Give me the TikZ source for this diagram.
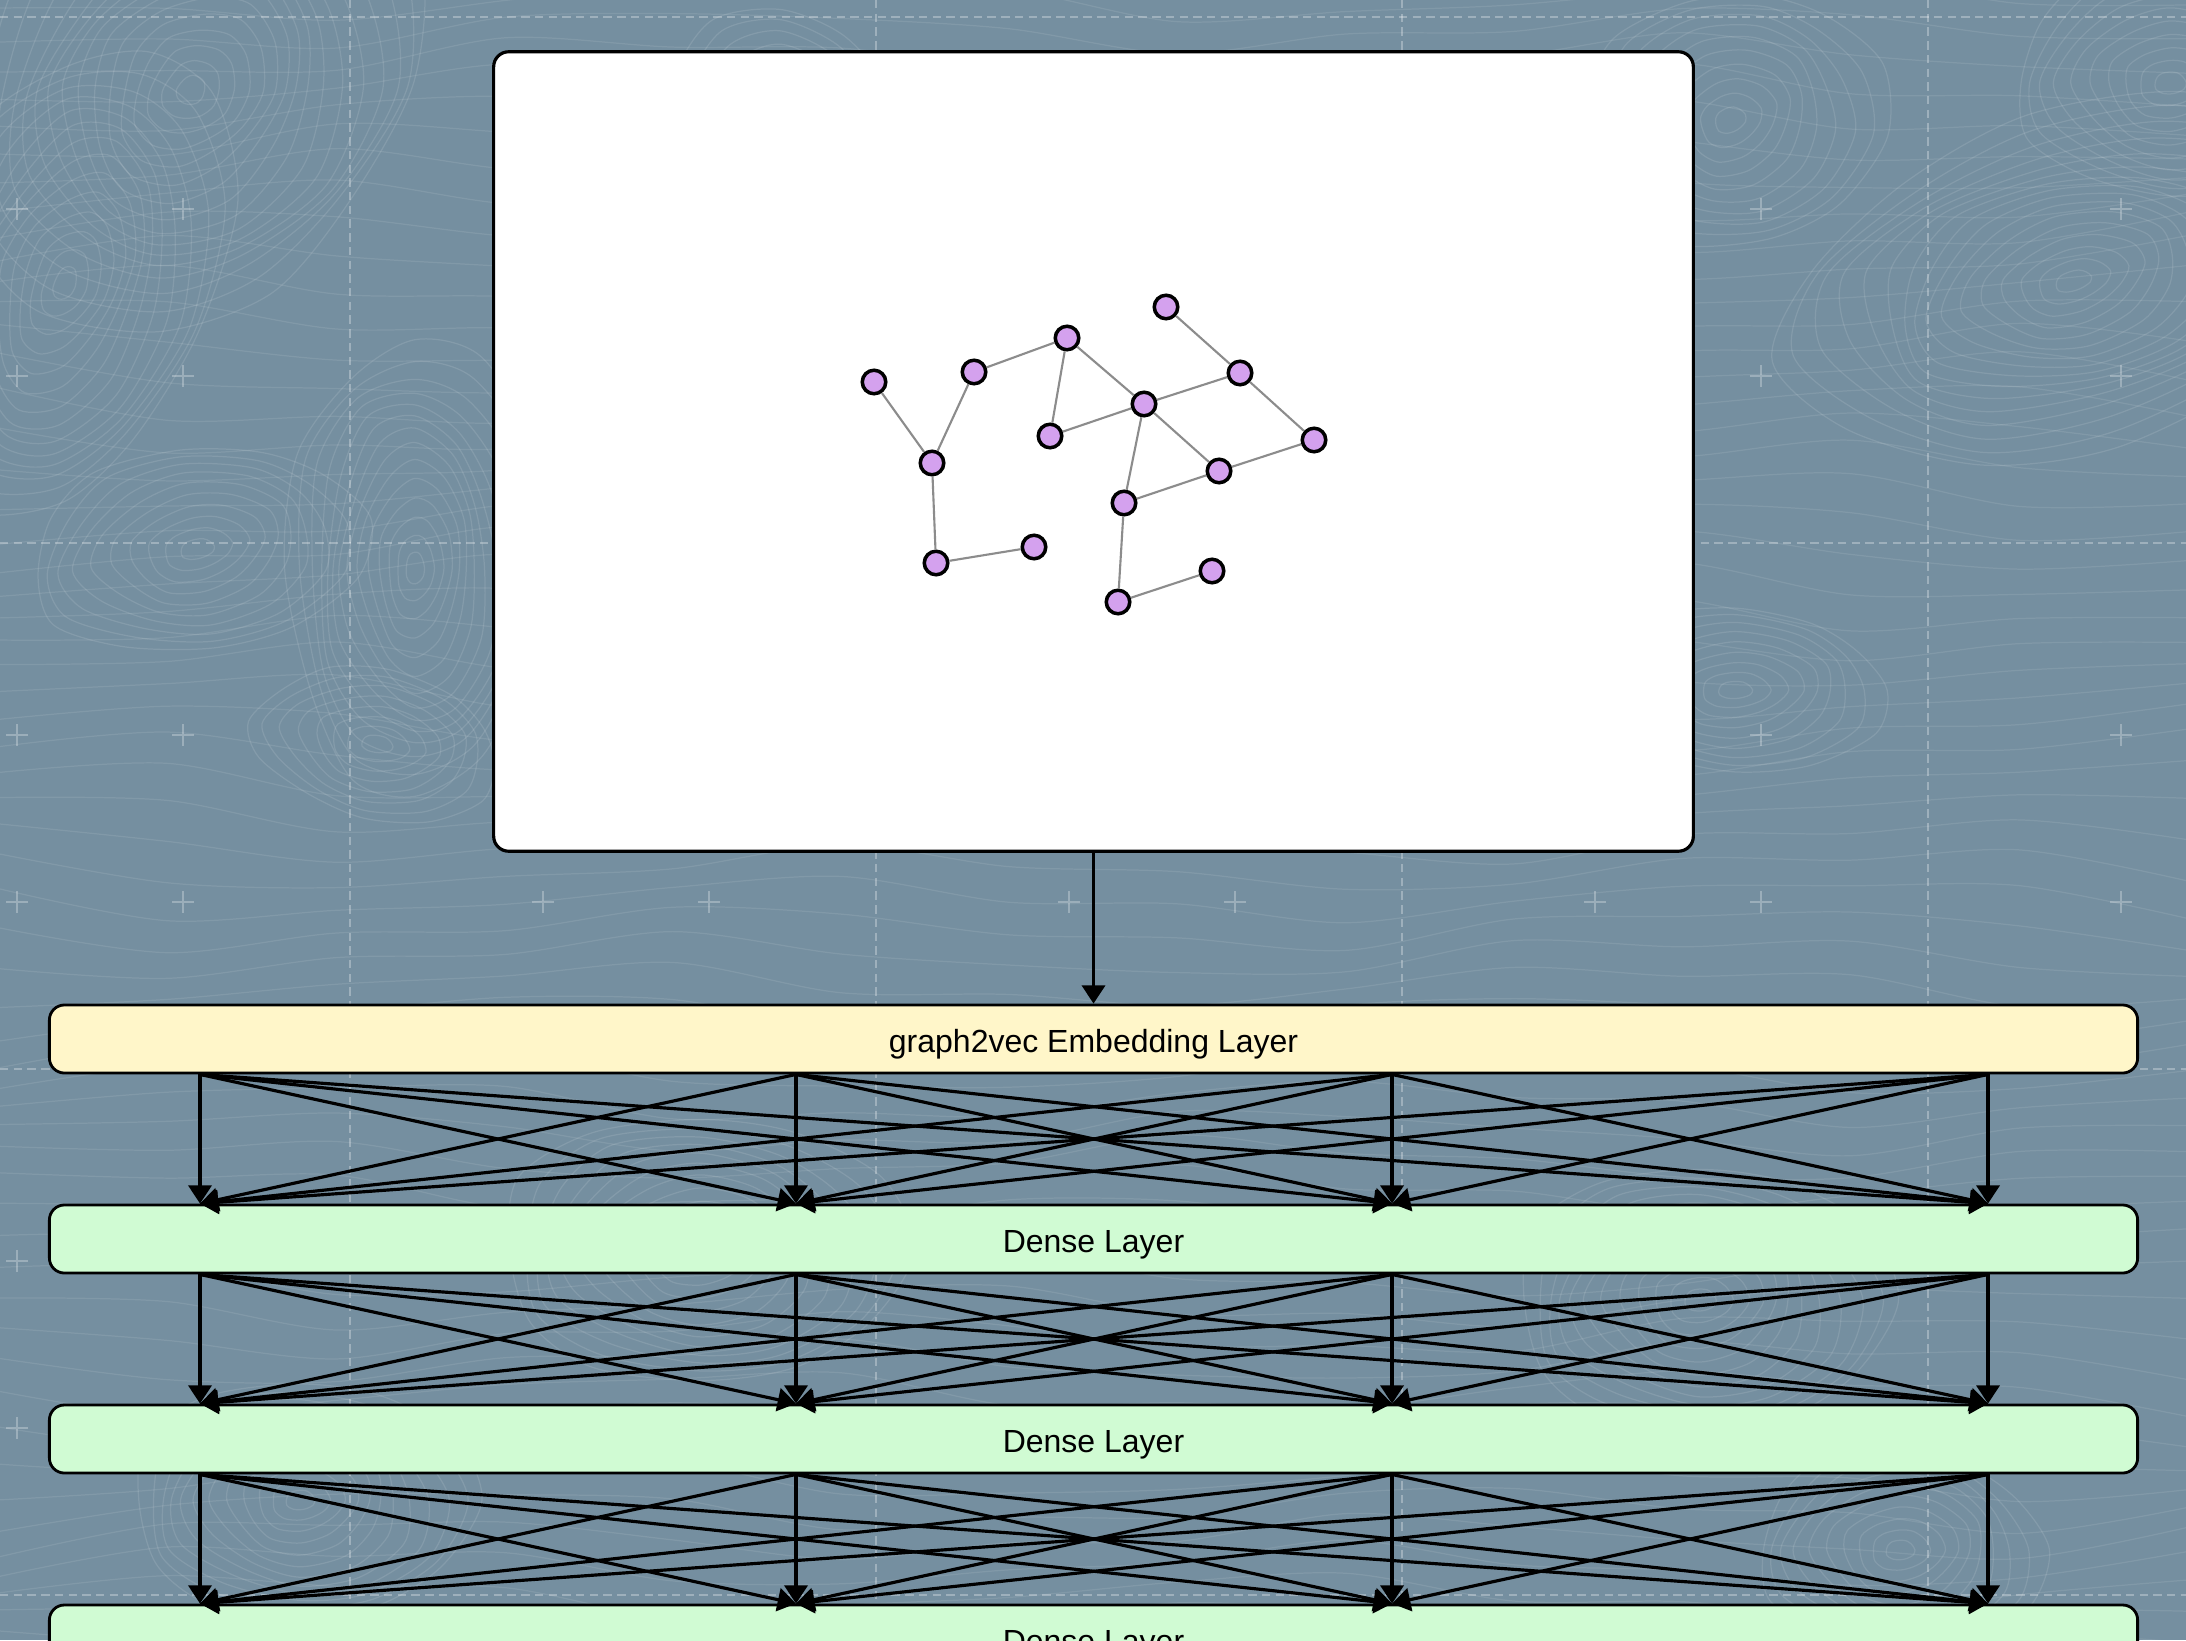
\documentclass[tikz,border=0pt]{standalone}
\usepackage{fontspec}
\setmainfont{Liberation Sans}
\usetikzlibrary{arrows.meta}
\definecolor{bgblue}{HTML}{758FA0}
\definecolor{nodepurple}{HTML}{D4A1EE}
\definecolor{embfill}{HTML}{FFF6C9}
\definecolor{densefill}{HTML}{D0FBD3}
\definecolor{edgegray}{HTML}{8C8C8C}
\begin{document}
\begin{tikzpicture}[x=0.01cm,y=-0.01cm,
  contour/.style={white, opacity=0.11, line width=0.35pt},
  flowline/.style={white, opacity=0.09, line width=0.35pt},
  gridline/.style={white, opacity=0.3, line width=0.45pt, dash pattern=on 2.4pt off 1.5pt},
  plusmark/.style={white, opacity=0.28, line width=0.45pt},
  panel/.style={draw=black, fill=white, line width=0.9pt, rounded corners=0.15cm,
    minimum width=11.99cm, minimum height=7.99cm, inner sep=0pt},
  layerbox/.style={draw=black, line width=0.8pt, rounded corners=0.15cm,
    minimum width=20.87cm, minimum height=0.68cm, inner sep=0pt,
    text height=7.4pt, text depth=0pt,
    font=\fontsize{9.1}{11}\selectfont},
  gnode/.style={circle, draw=black, fill=nodepurple, line width=1pt,
    minimum size=0.235cm, inner sep=0pt},
  gedge/.style={draw=edgegray, line width=0.6pt},
  conn/.style={draw=black, line width=0.9pt, -{Triangle[length=5.2pt,width=6.6pt]}}
]
\useasboundingbox (0,0) rectangle (2186,1640);
\clip (0,0) rectangle (2186,1640);
% background
\fill[bgblue] (0,0) rectangle (2186,1640);
\foreach \j in {0,...,58}
  \draw[flowline] plot[smooth, domain=0:2186, samples=14]
    (\x, {\j*29 + 18*sin(\x*0.35 + \j*23) + 8*cos(\x*0.9 + \j*41)});
\foreach \cx/\cy/\rx/\ry/\rot/\n in {
   191/90/1.0/1.25/-35/16, 65/283/0.8/1.4/-20/14, 2073/281/1.4/0.8/15/16,
   2170/83/1.2/0.9/0/10, 1735/690/1.3/0.7/0/9, 197/549/1.3/0.8/10/10,
   415/568/0.7/1.3/0/14, 377/744/1.2/0.7/-10/8, 1240/720/1.3/0.9/0/12,
   1730/120/1.2/1.0/20/10, 700/1250/1.3/0.9/0/12, 1700/1300/1.2/0.9/0/12,
   300/1500/1.1/0.8/0/12, 1900/1550/1.1/0.8/0/10, 780/160/1.0/1.2/0/10}
{
  \foreach \k in {1,...,\n}
    \draw[contour, rotate around={\rot:(\cx,\cy)}] plot[smooth cycle, samples=12, domain=0:330]
      ({\cx + \k*13*\rx*cos(\x)*(1+0.07*sin(3*\x+40*\k))},
       {\cy + \k*13*\ry*sin(\x)*(1+0.07*cos(2*\x+30*\k))});
}
\foreach \gx in {350,876,1402,1928}
  \draw[gridline] (\gx,0) -- (\gx,1640);
\foreach \gy in {17,543,1069,1595}
  \draw[gridline] (0,\gy) -- (2186,\gy);
\foreach \px in {17,183,543,709,1069,1235,1595,1761,2121}
  \foreach \py in {209,376,735,902,1261,1428}
    \draw[plusmark] (\px-11,\py) -- (\px+11,\py) (\px,\py-11) -- (\px,\py+11);

% top panel with graph
\node[panel] (top) at (1093.5,451.5) {};
\node[gnode] (g1) at (874,382) {};
\node[gnode] (g2) at (974,372) {};
\node[gnode] (g3) at (1067,338) {};
\node[gnode] (g4) at (1166,307) {};
\node[gnode] (g5) at (1240,373) {};
\node[gnode] (g6) at (1144,404) {};
\node[gnode] (g7) at (1050,436) {};
\node[gnode] (g8) at (932,463) {};
\node[gnode] (g9) at (1314,440) {};
\node[gnode] (g10) at (1219,471) {};
\node[gnode] (g11) at (1124,503) {};
\node[gnode] (g12) at (1034,547) {};
\node[gnode] (g13) at (936,563) {};
\node[gnode] (g14) at (1212,571) {};
\node[gnode] (g15) at (1118,602) {};
\foreach \a/\b in {g1/g8, g2/g8, g2/g3, g3/g7, g3/g6, g4/g5, g5/g6, g5/g9,
  g6/g7, g6/g10, g6/g11, g9/g10, g10/g11, g8/g13, g13/g12, g11/g15, g15/g14}
  \draw[gedge] (\a) -- (\b);

% layers
\node[layerbox, fill=embfill] (L0) at (1093.5,1039) {graph2vec Embedding Layer};
\node[layerbox, fill=densefill] (L1) at (1093.5,1239) {Dense Layer};
\node[layerbox, fill=densefill] (L2) at (1093.5,1439) {Dense Layer};
\node[layerbox, fill=densefill] (L3) at (1093.5,1639) {Dense Layer};

\coordinate (c1) at (200,0);
\coordinate (c2) at (796,0);
\coordinate (c3) at (1392,0);
\coordinate (c4) at (1988,0);

\draw[conn] (top.south) -- (L0.north);
\foreach \s/\t in {L0/L1, L1/L2, L2/L3}
  \foreach \i in {c1,c2,c3,c4}
    \foreach \j in {c1,c2,c3,c4}
      \draw[conn] (\s.south -| \i) -- (\t.north -| \j);
\end{tikzpicture}
\end{document}
